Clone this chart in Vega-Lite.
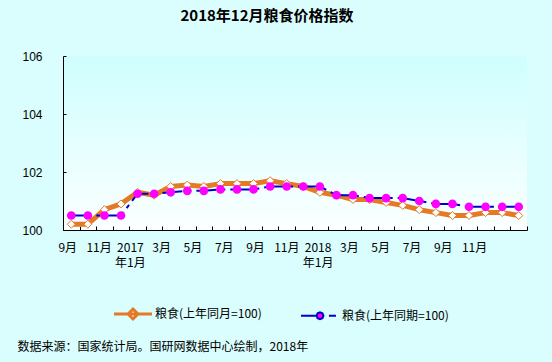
{
  "$schema": "https://vega.github.io/schema/vega-lite/v6.json",
  "width": 464,
  "height": 174,
  "autosize": {"type": "none"},
  "padding": {"left": 63, "top": 56, "right": 25, "bottom": 132},
  "background": "#dafdfd",
  "config": {
    "view": {
      "stroke": null,
      "fill": {"gradient": "linear", "x1": 0, "y1": 0, "x2": 0, "y2": 1,
        "stops": [{"offset": 0, "color": "#cffefe"}, {"offset": 1, "color": "#fbffff"}]}
    },
    "font": "Noto Sans CJK SC"
  },
  "title": {
    "text": "2018年12月粮食价格指数",
    "fontSize": 15,
    "fontWeight": "bold",
    "font": "Noto Sans CJK SC",
    "color": "#000000",
    "anchor": "middle",
    "dx": -28,
    "offset": 26
  },
  "data": {
    "values": [
      {"m": "2016-09", "s": "粮食(上年同月=100)", "v": 100.2},
      {"m": "2016-10", "s": "粮食(上年同月=100)", "v": 100.2},
      {"m": "2016-11", "s": "粮食(上年同月=100)", "v": 100.7},
      {"m": "2016-12", "s": "粮食(上年同月=100)", "v": 100.9},
      {"m": "2017-01", "s": "粮食(上年同月=100)", "v": 101.3},
      {"m": "2017-02", "s": "粮食(上年同月=100)", "v": 101.2},
      {"m": "2017-03", "s": "粮食(上年同月=100)", "v": 101.5},
      {"m": "2017-04", "s": "粮食(上年同月=100)", "v": 101.55},
      {"m": "2017-05", "s": "粮食(上年同月=100)", "v": 101.5},
      {"m": "2017-06", "s": "粮食(上年同月=100)", "v": 101.6},
      {"m": "2017-07", "s": "粮食(上年同月=100)", "v": 101.6},
      {"m": "2017-08", "s": "粮食(上年同月=100)", "v": 101.6},
      {"m": "2017-09", "s": "粮食(上年同月=100)", "v": 101.7},
      {"m": "2017-10", "s": "粮食(上年同月=100)", "v": 101.6},
      {"m": "2017-11", "s": "粮食(上年同月=100)", "v": 101.5},
      {"m": "2017-12", "s": "粮食(上年同月=100)", "v": 101.3},
      {"m": "2018-01", "s": "粮食(上年同月=100)", "v": 101.2},
      {"m": "2018-02", "s": "粮食(上年同月=100)", "v": 101.05},
      {"m": "2018-03", "s": "粮食(上年同月=100)", "v": 101.05},
      {"m": "2018-04", "s": "粮食(上年同月=100)", "v": 100.95},
      {"m": "2018-05", "s": "粮食(上年同月=100)", "v": 100.85},
      {"m": "2018-06", "s": "粮食(上年同月=100)", "v": 100.7},
      {"m": "2018-07", "s": "粮食(上年同月=100)", "v": 100.6},
      {"m": "2018-08", "s": "粮食(上年同月=100)", "v": 100.5},
      {"m": "2018-09", "s": "粮食(上年同月=100)", "v": 100.5},
      {"m": "2018-10", "s": "粮食(上年同月=100)", "v": 100.6},
      {"m": "2018-11", "s": "粮食(上年同月=100)", "v": 100.6},
      {"m": "2018-12", "s": "粮食(上年同月=100)", "v": 100.5},
      {"m": "2016-09", "s": "粮食(上年同期=100)", "v": 100.5},
      {"m": "2016-10", "s": "粮食(上年同期=100)", "v": 100.5},
      {"m": "2016-11", "s": "粮食(上年同期=100)", "v": 100.5},
      {"m": "2016-12", "s": "粮食(上年同期=100)", "v": 100.5},
      {"m": "2017-01", "s": "粮食(上年同期=100)", "v": 101.25},
      {"m": "2017-02", "s": "粮食(上年同期=100)", "v": 101.25},
      {"m": "2017-03", "s": "粮食(上年同期=100)", "v": 101.3},
      {"m": "2017-04", "s": "粮食(上年同期=100)", "v": 101.35},
      {"m": "2017-05", "s": "粮食(上年同期=100)", "v": 101.35},
      {"m": "2017-06", "s": "粮食(上年同期=100)", "v": 101.4},
      {"m": "2017-07", "s": "粮食(上年同期=100)", "v": 101.4},
      {"m": "2017-08", "s": "粮食(上年同期=100)", "v": 101.4},
      {"m": "2017-09", "s": "粮食(上年同期=100)", "v": 101.5},
      {"m": "2017-10", "s": "粮食(上年同期=100)", "v": 101.5},
      {"m": "2017-11", "s": "粮食(上年同期=100)", "v": 101.5},
      {"m": "2017-12", "s": "粮食(上年同期=100)", "v": 101.5},
      {"m": "2018-01", "s": "粮食(上年同期=100)", "v": 101.2},
      {"m": "2018-02", "s": "粮食(上年同期=100)", "v": 101.2},
      {"m": "2018-03", "s": "粮食(上年同期=100)", "v": 101.1},
      {"m": "2018-04", "s": "粮食(上年同期=100)", "v": 101.1},
      {"m": "2018-05", "s": "粮食(上年同期=100)", "v": 101.1},
      {"m": "2018-06", "s": "粮食(上年同期=100)", "v": 101.0},
      {"m": "2018-07", "s": "粮食(上年同期=100)", "v": 100.9},
      {"m": "2018-08", "s": "粮食(上年同期=100)", "v": 100.9},
      {"m": "2018-09", "s": "粮食(上年同期=100)", "v": 100.8},
      {"m": "2018-10", "s": "粮食(上年同期=100)", "v": 100.8},
      {"m": "2018-11", "s": "粮食(上年同期=100)", "v": 100.8},
      {"m": "2018-12", "s": "粮食(上年同期=100)", "v": 100.8}
    ]
  },
  "encoding": {
    "x": {
      "field": "m",
      "type": "ordinal",
      "scale": {"type": "band", "paddingInner": 0, "paddingOuter": 0},
      "axis": {
        "title": "数据来源：国家统计局。国研网数据中心绘制，2018年",
        "titleX": -46,
        "titleY": 116,
        "titleAlign": "left",
        "titleAnchor": "start",
        "titleBaseline": "middle",
        "titleFontWeight": "normal",
        "titleFontSize": 12,
        "titleColor": "#000000",
        "tickBand": "extent",
        "tickSize": -4,
        "tickColor": "#000000",
        "domainColor": "#000000",
        "labelColor": "#000000",
        "labelFontSize": 12,
        "labelAngle": 0,
        "labelPadding": 16,
        "labelBaseline": "top",
        "labelLineHeight": 15,
        "labelOverlap": false,
        "labelFlush": false,
        "labelBound": false,
        "labelOffset": {"expr": "-4 - 25 * datum.index"},
        "labelExpr": "(!isString(datum.value) || length(datum.value) != 7 || isNaN(toNumber(substring(datum.value,5,7)))) ? '' : ((toNumber(substring(datum.value,5,7)) % 2 == 0) ? '' : (substring(datum.value,5,7) == '01' ? [substring(datum.value,0,4), '年1月'] : toNumber(substring(datum.value,5,7)) + '月'))",
        "grid": false
      }
    },
    "y": {
      "field": "v",
      "type": "quantitative",
      "scale": {"domain": [100, 106], "nice": false, "zero": false},
      "axis": {
        "title": null,
        "values": [100, 102, 104, 106],
        "tickSize": -3,
        "tickColor": "#000000",
        "domainColor": "#000000",
        "labelColor": "#000000",
        "labelFont": "Liberation Sans",
        "labelFontSize": 12,
        "labelPadding": 24,
        "grid": false
      }
    }
  },
  "layer": [
    {
      "transform": [{"filter": "datum.s == '粮食(上年同月=100)'"}],
      "mark": {"type": "line", "strokeWidth": 5, "strokeJoin": "round", "strokeCap": "butt"},
      "encoding": {
        "color": {
          "field": "s",
          "type": "nominal",
          "scale": {"domain": ["粮食(上年同月=100)", "粮食(上年同期=100)"], "range": ["#e57a26", "#0000cc"]},
          "legend": {
            "title": null,
            "orient": "none",
            "legendX": 64,
            "legendY": 252,
            "direction": "horizontal",
            "labelFontSize": 12,
            "labelColor": "#000000",
            "labelOffset": 16,
            "columnPadding": 35,
            "encode": {
              "symbols": {
                "update": {
                  "shape": {"signal": "datum.value === '粮食(上年同月=100)' ? 'M-1,0H1M0,-0.26L0.26,0L0,0.26L-0.26,0Z' : 'M-1,0H-0.2M0.47,0H0.84M0.18,0L0.127,0.127L0,0.18L-0.127,0.127L-0.18,0L-0.127,-0.127L0,-0.18L0.127,-0.127Z'"},
                  "size": {"value": 1444},
                  "fill": {"signal": "datum.value === '粮食(上年同月=100)' ? '#ffffff' : '#ff00ff'"},
                  "stroke": {"signal": "datum.value === '粮食(上年同月=100)' ? '#e57a26' : '#0000cc'"},
                  "strokeWidth": {"signal": "datum.value === '粮食(上年同月=100)' ? 3 : 2"},
                  "fillOpacity": {"value": 1},
                  "strokeOpacity": {"value": 1},
                  "opacity": {"value": 1}
                }
              }
            }
          }
        }
      }
    },
    {
      "transform": [{"filter": "datum.s == '粮食(上年同月=100)'"}],
      "mark": {"type": "point", "shape": "diamond", "filled": true, "fill": "#ffffff", "stroke": "#e57a26", "strokeWidth": 1, "size": 64, "opacity": 1}
    },
    {
      "transform": [{"filter": "datum.s == '粮食(上年同期=100)'"}],
      "mark": {"type": "line", "strokeWidth": 2, "strokeDash": [20, 5, 4, 5]},
      "encoding": {
        "color": {"field": "s", "type": "nominal"}
      }
    },
    {
      "transform": [{"filter": "datum.s == '粮食(上年同期=100)'"}],
      "mark": {"type": "circle", "size": 75, "color": "#ff00ff", "opacity": 1}
    }
  ]
}
